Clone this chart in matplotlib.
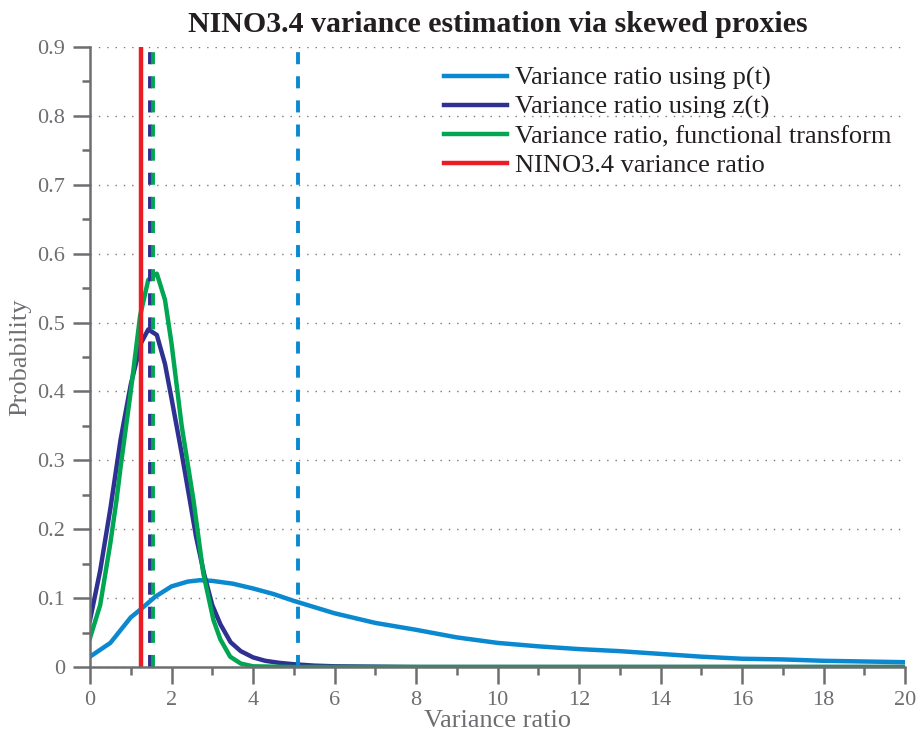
import matplotlib
matplotlib.use("Agg")
import matplotlib.pyplot as plt
from matplotlib.ticker import FixedLocator

plt.rcParams['font.family'] = ['Liberation Serif', 'DejaVu Serif']

# distributions of the variance ratio
x_p = [0, 0.5, 1.0, 1.25, 1.6, 2.0, 2.4, 2.7, 3.0, 3.5, 4.0, 4.5, 5.0, 5.5, 6, 7, 8, 9,
       10, 11, 12, 13, 14, 15, 16, 17, 18, 19, 20]
p_p = [0.015, 0.035, 0.072, 0.084, 0.102, 0.117, 0.124, 0.126, 0.125, 0.121, 0.114,
       0.106, 0.096, 0.087, 0.078, 0.064, 0.054, 0.043, 0.035, 0.030, 0.026, 0.023,
       0.019, 0.015, 0.012, 0.011, 0.009, 0.008, 0.007]

x_z = [0, 0.25, 0.5, 0.75, 1.0, 1.25, 1.43, 1.64, 1.84, 2.0, 2.25, 2.45, 2.6, 2.8, 3.0,
       3.2, 3.45, 3.7, 4.0, 4.3, 4.65, 5.0, 5.5, 6, 8, 20]
p_z = [0.068, 0.14, 0.23, 0.33, 0.41, 0.47, 0.49, 0.482, 0.44, 0.39, 0.31, 0.242, 0.19,
       0.135, 0.09, 0.062, 0.036, 0.023, 0.014, 0.009, 0.006, 0.004, 0.002, 0.001, 0.0, 0.0]

x_f = [0, 0.25, 0.5, 0.65, 0.75, 1.0, 1.23, 1.43, 1.64, 1.84, 2.0, 2.25, 2.54, 2.78,
       3.03, 3.2, 3.44, 3.7, 4.0, 5.0, 20]
p_f = [0.042, 0.09, 0.18, 0.242, 0.29, 0.40, 0.51, 0.562, 0.571, 0.533, 0.47, 0.35,
       0.242, 0.136, 0.068, 0.04, 0.015, 0.005, 0.001, 0.0, 0.0]

# mean estimates (dashed) and observed NINO3.4 ratio
mean_p = 5.10
mean_z = 1.47
mean_f = 1.55
nino_ratio = 1.25

labels = ['Variance ratio using p(t)', 'Variance ratio using z(t)',
          'Variance ratio, functional transform', 'NINO3.4 variance ratio']
x_ticks = list(range(0, 21, 2))
y_ticks = [i / 10 for i in range(10)]
y_ticklabels = ['0'] + [f'{v:.1f}' for v in y_ticks[1:]]

c_p, c_z, c_f, c_n = '#0a89d0', '#2e3192', '#00a651', '#ed1c24'

fig = plt.figure(figsize=(9.16, 7.36), dpi=100)
ax = fig.add_axes([90/916, 69/736, 815/916, 620/736])

lw = 3.2
ax.plot(x_p, p_p, color=c_p, lw=lw, label=labels[0])
ax.plot(x_z, p_z, color=c_z, lw=lw, label=labels[1])
ax.plot(x_f, p_f, color=c_f, lw=lw, label=labels[2])
ax.plot([nino_ratio, nino_ratio], [0, 0.9], color=c_n, lw=lw, label=labels[3])

for m, c in [(mean_p, c_p), (mean_z, c_z), (mean_f, c_f)]:
    ax.plot([m, m], [0, 0.9], color=c, lw=2.8, dashes=(3.1, 3.1))

ax.set_xlim(0, 20)
ax.set_ylim(0, 0.9)
ax.set_xticks(x_ticks)
ax.set_xticklabels([str(v) for v in x_ticks])
ax.set_yticks(y_ticks)
ax.set_yticklabels(y_ticklabels)
ax.xaxis.set_minor_locator(FixedLocator(range(1, 20, 2)))
ax.yaxis.set_minor_locator(FixedLocator([v + 0.05 for v in y_ticks[:-1]]))

gray = '#6d6e71'
for s in ['top', 'right']:
    ax.spines[s].set_visible(False)
for s in ['left', 'bottom']:
    ax.spines[s].set_color(gray)
    ax.spines[s].set_linewidth(1.8)
ax.tick_params(which='major', direction='out', length=12, width=1.8, color=gray,
               labelcolor=gray, labelsize=16, pad=6)
ax.tick_params(axis='x', which='major', pad=5)
ax.tick_params(which='minor', direction='out', length=6, width=1.8, color=gray)
ax.yaxis.grid(True, which='major', linestyle=(0, (1, 5)), color='#777777', lw=1.0)
ax.set_axisbelow(True)

ax.set_xlabel('Variance ratio', color=gray, fontsize=19, labelpad=0)
ax.set_ylabel('Probability', color=gray, fontsize=19, labelpad=4)
ax.set_title('NINO3.4 variance estimation via skewed proxies', fontsize=21.5,
             fontweight='bold', color='#231f20', pad=11)

leg = ax.legend(loc='upper right', frameon=False, fontsize=19, handlelength=2.4,
                handletextpad=0.3, labelspacing=0.2, borderaxespad=0.1,
                bbox_to_anchor=(1.0, 0.99))
for t in leg.get_texts():
    t.set_color('#231f20')

fig.savefig('out.png', dpi=100)
